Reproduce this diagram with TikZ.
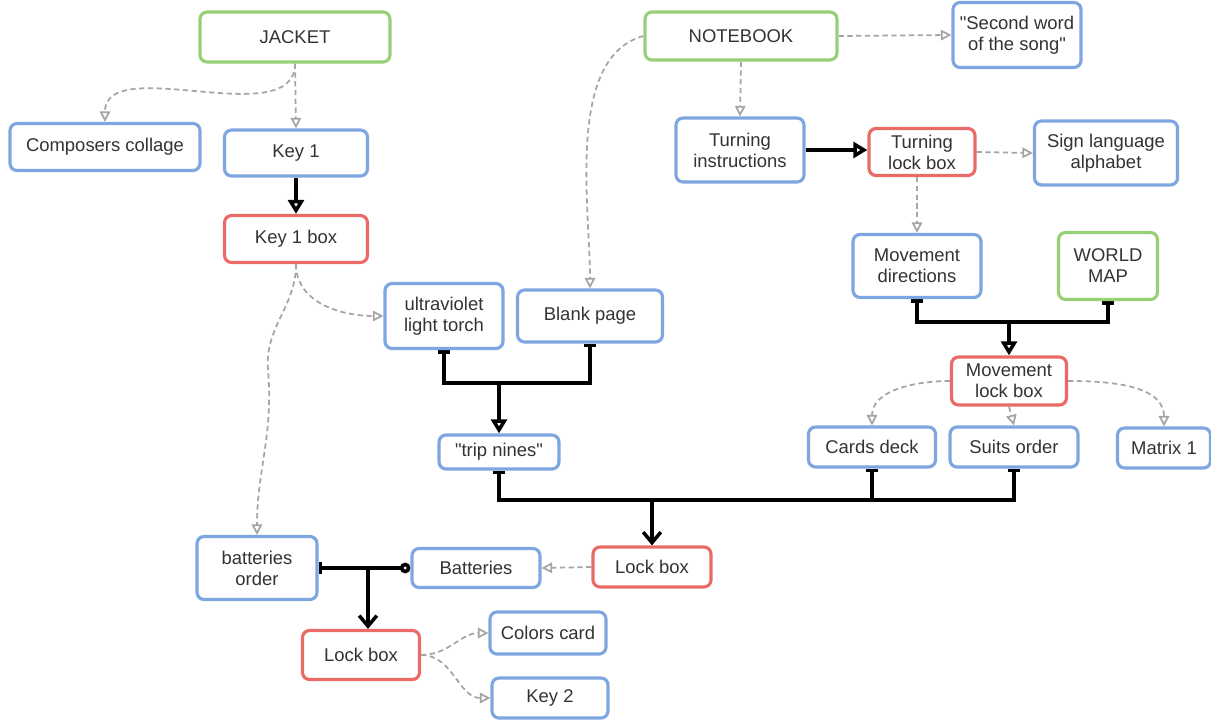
\documentclass[tikz,border=0pt]{standalone}
\usepackage{fontspec}
\setmainfont{Liberation Sans}
\usetikzlibrary{arrows.meta,backgrounds}

\definecolor{BoxBlue}{RGB}{126,166,224}
\definecolor{BoxGreen}{RGB}{151,208,119}
\definecolor{BoxRed}{RGB}{234,107,102}
\definecolor{LinkGray}{RGB}{165,165,165}
\definecolor{TextGray}{RGB}{51,51,51}

\tikzset{
  box/.style={draw,line width=1.8pt,rounded corners=4pt,fill=white,text=TextGray,
    align=center,font=\fontsize{10.5}{12}\selectfont,inner sep=2pt},
  item/.style={box,draw=BoxBlue},
  start/.style={box,draw=BoxGreen},
  lock/.style={box,draw=BoxRed},
  hint/.style={draw=LinkGray,line width=1pt,dash pattern=on 3pt off 2pt,
    -{Triangle[open,length=6pt,width=6pt]}},
  need/.style={draw=black,line width=2pt},
}

\begin{document}
\begin{tikzpicture}[x=0.02cm,y=-0.02cm]
  \useasboundingbox (0,0) rectangle (1211,720);

  % jacket branch
  \node[start,minimum width=3.8cm,minimum height=1cm] (jacket) at (295,37) {JACKET};
  \node[item,minimum width=3.8cm,minimum height=0.94cm] (collage) at (105,147) {Composers collage};
  \node[item,minimum width=2.86cm,minimum height=0.92cm] (key1) at (296,153) {Key 1};
  \node[lock,minimum width=2.86cm,minimum height=0.94cm] (key1box) at (296,239) {Key 1 box};
  \node[item,minimum width=2.36cm,minimum height=1.3cm] (torch) at (444,316) {ultraviolet\\light torch};
  \node[item,minimum width=2.9cm,minimum height=1.04cm] (blank) at (590,316) {Blank page};
  \node[item,minimum width=2.4cm,minimum height=0.68cm] (nines) at (499,452) {\textquotedbl trip nines\textquotedbl};

  % notebook branch
  \node[start,minimum width=3.84cm,minimum height=0.96cm] (notebook) at (741,36) {NOTEBOOK};
  \node[item,minimum width=2.56cm,minimum height=1.3cm] (song) at (1017,35) {\textquotedbl Second word\\of the song\textquotedbl};
  \node[item,minimum width=2.56cm,minimum height=1.28cm] (turninstr) at (740,150) {Turning\\instructions};
  \node[lock,minimum width=2.12cm,minimum height=0.94cm] (turnlock) at (922,152) {Turning\\lock box};
  \node[item,minimum width=2.86cm,minimum height=1.28cm] (signs) at (1106,153) {Sign language\\alphabet};
  \node[item,minimum width=2.56cm,minimum height=1.26cm] (movedir) at (917,266) {Movement\\directions};
  \node[start,minimum width=1.98cm,minimum height=1.34cm] (worldmap) at (1108,266) {WORLD\\MAP};
  \node[lock,minimum width=2.3cm,minimum height=0.96cm] (movelock) at (1009,381) {Movement\\lock box};
  \node[item,minimum width=2.54cm,minimum height=0.8cm] (cards) at (872,447) {Cards deck};
  \node[item,minimum width=2.56cm,minimum height=0.8cm] (suits) at (1014,447) {Suits order};
  \node[item,minimum width=1.86cm,minimum height=0.8cm] (matrix) at (1164,448) {Matrix 1};

  % final part
  \node[lock,minimum width=2.36cm,minimum height=0.8cm] (lockbox) at (652,567) {Lock box};
  \node[item,minimum width=2.56cm,minimum height=0.78cm] (batteries) at (476,568) {Batteries};
  \node[item,minimum width=2.4cm,minimum height=1.26cm] (batorder) at (257,568) {batteries\\order};
  \node[lock,minimum width=2.34cm,minimum height=0.98cm] (lastlock) at (361,655) {Lock box};
  \node[item,minimum width=2.32cm,minimum height=0.84cm] (colors) at (548,633) {Colors card};
  \node[item,minimum width=2.32cm,minimum height=0.8cm] (key2) at (550,698) {Key 2};

  % junctions
  \coordinate (j1) at (499,383);
  \coordinate (j2) at (1009,322);
  \coordinate (j3) at (652,500);
  \coordinate (j4) at (368,568);
  \coordinate (bend) at (268,370);

  \begin{scope}[on background layer]
    \draw[hint] (jacket.south) -- (key1.north);
    \draw[hint] (jacket.south) to[out=-90,in=90,looseness=0.9] (collage.north);
    \draw[hint] (key1box.south) to[out=-90,in=180] (torch.west);
    \draw[hint] (key1box.south) to[out=-90,in=95] (bend) to[out=-85,in=90] (batorder.north);
    \draw[hint] (notebook.west) to[out=195,in=90,looseness=0.8] (blank.north);
    \draw[hint] (notebook.east) -- (song.west);
    \draw[hint] (notebook.south) -- (turninstr.north);
    \draw[hint] (turnlock.east) -- (signs.west);
    \draw[hint] (turnlock.south -| movedir.north) -- (movedir.north);
    \draw[hint] (movelock.west) to[out=180,in=90] (cards.north);
    \draw[hint] (movelock.south) -- (suits.north);
    \draw[hint] (movelock.east) to[out=0,in=90] (matrix.north);
    \draw[hint] (lockbox.west) -- (batteries.east);
    \draw[hint] (lastlock.east) to[out=0,in=180] (colors.west);
    \draw[hint] (lastlock.east) to[out=0,in=180] (key2.west);

    \draw[need,-{Triangle[open,length=8pt,width=9pt]}] (key1.south) -- (key1box.north);
    \draw[need,-{Triangle[open,length=8pt,width=9pt]}] (turninstr.east) -- (turninstr.east -| turnlock.west);

    \draw[need,{Bar[width=7pt]}-] (torch.south) |- (j1);
    \draw[need,{Bar[width=7pt]}-] (blank.south) |- (j1);
    \draw[need,-{Triangle[open,length=8pt,width=9pt]}] (j1) -- (nines.north);

    \draw[need,{Bar[width=7pt]}-] (movedir.south) |- (j2);
    \draw[need,{Bar[width=7pt]}-] (worldmap.south) |- (j2);
    \draw[need,-{Triangle[open,length=8pt,width=9pt]}] (j2) -- (movelock.north);

    \draw[need,{Bar[width=7pt]}-] (nines.south) |- (j3);
    \draw[need,{Bar[width=7pt]}-] (cards.south) |- (j3);
    \draw[need,{Bar[width=7pt]}-] (suits.south) |- (j3);
    \draw[need,-{Straight Barb[length=6pt,width=10pt]}] (j3) -- (lockbox.north);

    \draw[need,{Bar[width=7pt]}-] (batorder.east) -- (j4);
    \draw[need,{Circle[open,length=6pt]}-] (batteries.west) -- (j4);
    \draw[need,-{Straight Barb[length=6pt,width=10pt]}] (j4) -- (j4 |- lastlock.north);
  \end{scope}
\end{tikzpicture}
\end{document}
